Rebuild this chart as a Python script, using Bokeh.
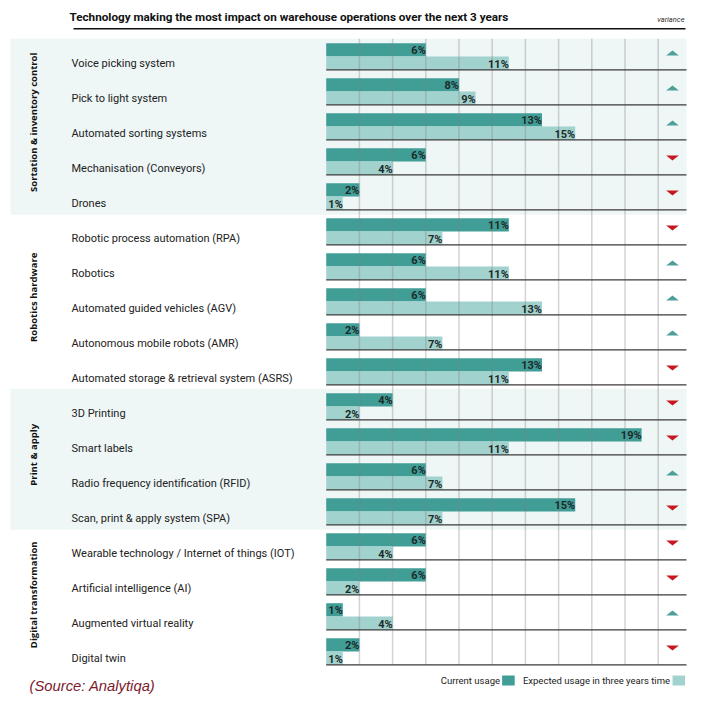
from bokeh.plotting import figure
from bokeh.models import Range1d, ColumnDataSource
from bokeh.core.properties import value
from bokeh.embed import file_html
from bokeh.resources import INLINE

# ---------------- data ----------------
title = "Technology making the most impact on warehouse operations over the next 3 years"
variance_label = "variance"
groups = ["Sortation & inventory control", "Robotics hardware", "Print & apply", "Digital transformation"]
group_sizes = [5, 5, 4, 4]
technologies = [
    "Voice picking system",
    "Pick to light system",
    "Automated sorting systems",
    "Mechanisation (Conveyors)",
    "Drones",
    "Robotic process automation (RPA)",
    "Robotics",
    "Automated guided vehicles (AGV)",
    "Autonomous mobile robots (AMR)",
    "Automated storage & retrieval system (ASRS)",
    "3D Printing",
    "Smart labels",
    "Radio frequency identification (RFID)",
    "Scan, print & apply system (SPA)",
    "Wearable technology / Internet of things (IOT)",
    "Artificial intelligence (AI)",
    "Augmented virtual reality",
    "Digital twin",
]
current_usage = [6, 8, 13, 6, 2, 11, 6, 6, 2, 13, 4, 19, 6, 15, 6, 6, 1, 2]
expected_usage = [11, 9, 15, 4, 1, 7, 11, 13, 7, 11, 2, 11, 7, 7, 4, 2, 4, 1]
variance = ["up", "up", "up", "down", "down",
            "down", "up", "up", "up", "down",
            "down", "down", "up", "down",
            "down", "down", "up", "down"]
legend_labels = ["Current usage", "Expected usage in three years time"]
source_note = "(Source: Analytiqa)"
grid_ticks = [2, 4, 6, 8, 10, 12, 14, 16, 18, 20]

# ---------------- styling ----------------
C_CUR = "#419e97"
C_EXP = "#a2d2ce"
C_PANEL = "#eef6f6"
C_UP = "#4f9f99"
C_DOWN = "#c8171e"
FONT = "Roboto"

PX_PER_PCT = 16.6
ROW_PX = 35.0


def xo(px):  # screen pixel -> percent units
    return (px - 325.7) / PX_PER_PCT


def yo(px):  # screen pixel -> row units (downward)
    return (px - 34.3) / ROW_PX


n = len(technologies)
p = figure(width=712, height=701, output_backend="svg", toolbar_location=None,
           x_range=Range1d(xo(0), xo(712)), y_range=Range1d(yo(701), yo(0)),
           min_border=0, x_axis_location=None, y_axis_location=None)
p.outline_line_color = None
p.xgrid.visible = False
p.ygrid.visible = False
p.background_fill_color = "white"
p.border_fill_color = "white"

# group panels
starts = []
s = 0
for g in group_sizes:
    starts.append(s)
    s += g
for gi, (st, sz) in enumerate(zip(starts, group_sizes)):
    if gi % 2 == 0:
        p.quad(left=xo(10), right=xo(686), top=st + 0.114, bottom=st + sz + 0.143,
               fill_color=C_PANEL, line_color=None)

# bars
rows = list(range(n))
src = ColumnDataSource(dict(
    y_cur=[r + 0.43 for r in rows],
    y_exp=[r + 0.81 for r in rows],
    cur=current_usage, exp=expected_usage,
    cur_lbl=[f"{v}%" for v in current_usage],
    exp_lbl=[f"{v}%" for v in expected_usage],
    y_row=[r + 0.81 for r in rows],
    name=technologies,
))
p.hbar(y="y_cur", left=0, right="cur", height=0.38, fill_color=C_CUR, line_color=None, source=src)
p.hbar(y="y_exp", left=0, right="exp", height=0.38, fill_color=C_EXP, line_color=None, source=src)

# vertical gridlines over bars
p.segment(x0=grid_ticks, x1=grid_ticks, y0=[0.114] * len(grid_ticks), y1=[n] * len(grid_ticks),
          line_color="#808080", line_alpha=0.35, line_width=1.5)

# row separator lines
p.segment(x0=[0] * n, x1=[xo(686)] * n, y0=[r + 1 for r in rows], y1=[r + 1 for r in rows],
          line_color="#3a3a3a", line_width=1.2)

# value labels
p.text(x="cur", y="y_cur", text="cur_lbl", source=src, text_align="right", text_baseline="middle",
       text_font=value(FONT), text_font_style="bold", text_font_size="11px",
       text_color="#1b2a2a", y_offset=1)
p.text(x="exp", y="y_exp", text="exp_lbl", source=src, text_align="right", text_baseline="middle",
       text_font=value(FONT), text_font_style="bold", text_font_size="11px",
       text_color="#1b2a2a", y_offset=1)

# row labels
p.text(x=xo(71), y="y_row", text="name", source=src, text_align="left", text_baseline="middle",
       text_font=value(FONT), text_font_size="11px", text_color="#222222")

# group labels
p.text(x=[xo(33)] * len(groups), y=[st + sz / 2 for st, sz in zip(starts, group_sizes)], text=groups,
       angle=1.5708, text_align="center", text_baseline="middle",
       text_font=value("Open Sans"), text_font_style="bold", text_font_size="9.5px", text_color="#111111")

# variance triangles
xc = xo(672)
w = 12.7 / PX_PER_PCT
h = 5.0 / ROW_PX
up_xs, up_ys, dn_xs, dn_ys = [], [], [], []
for r, v in zip(rows, variance):
    yc = r + 0.52
    if v == "up":
        up_xs.append([xc - w / 2, xc + w / 2, xc])
        up_ys.append([yc + h / 2, yc + h / 2, yc - h / 2])
    else:
        dn_xs.append([xc - w / 2, xc + w / 2, xc])
        dn_ys.append([yc - h / 2, yc - h / 2, yc + h / 2])
p.patches(up_xs, up_ys, fill_color=C_UP, line_color=None)
p.patches(dn_xs, dn_ys, fill_color=C_DOWN, line_color=None)

# title + underline + variance header
p.text(x=[xo(69)], y=[yo(16)], text=[title], text_align="left", text_baseline="middle",
       text_font=value(FONT), text_font_style="bold", text_font_size="11.7px", text_color="#111111")
p.segment(x0=[xo(73)], x1=[xo(685)], y0=[yo(28.3)], y1=[yo(28.3)], line_color="#111111", line_width=1.5)
p.text(x=[xo(684)], y=[yo(19.3)], text=[variance_label], text_align="right", text_baseline="middle",
       text_font=value(FONT), text_font_style="italic", text_font_size="7.5px", text_color="#333333")

# legend
p.quad(left=[xo(501.6), xo(672)], right=[xo(514.2), xo(684.6)], top=[yo(675)] * 2, bottom=[yo(685)] * 2,
       fill_color=[C_CUR, C_EXP], line_color=None)
p.text(x=[xo(499.5), xo(669.5)], y=[yo(680)] * 2, text=legend_labels, text_align="right",
       text_baseline="middle", text_font=value(FONT), text_font_size="9.5px", text_color="#222222")

# source
p.text(x=[xo(29)], y=[yo(685)], text=[source_note], text_align="left", text_baseline="middle",
       text_font=value("Liberation Sans"), text_font_style="italic", text_font_size="14.8px",
       text_color="#7d1a2c")

open("out.html", "w").write(file_html(p, INLINE))
